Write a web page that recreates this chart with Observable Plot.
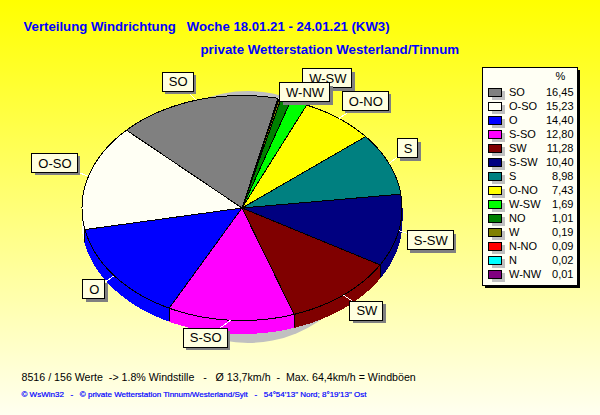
<!DOCTYPE html>
<html>
<head>
<meta charset="utf-8">
<script src="https://cdn.jsdelivr.net/npm/d3@7"></script>
<script src="https://cdn.jsdelivr.net/npm/@observablehq/plot@0.6"></script>
<style>
html,body{margin:0;padding:0;width:600px;height:415px;overflow:hidden;background:linear-gradient(#ffff00,#fffff0);}
svg{display:block;}
svg text{white-space:pre;}
svg path,svg rect,svg line{shape-rendering:crispEdges;}
</style>
</head>
<body>
<div id="chart"></div>
<script>
const titleText = "Verteilung Windrichtung   Woche 18.01.21 - 24.01.21 (KW3)";
const subtitleText = "private Wetterstation Westerland/Tinnum";
const statsText = "8516 / 156 Werte  -> 1.8% Windstille   -   Ø 13,7km/h  -  Max. 64,4km/h = Windböen";
const footerText = "© WsWin32   -   © private Wetterstation Tinnum/Westerland/Sylt   -   54°54'13\" Nord; 8°19'13\" Ost";

const categories = ["SO","O-SO","O","S-SO","SW","S-SW","S","O-NO","W-SW","NO","W","N-NO","N","W-NW"];
const shares = [16.45,15.23,14.40,12.80,11.28,10.40,8.98,7.43,1.69,1.01,0.19,0.09,0.02,0.01];
const palette = ["#808080","#fffff4","#0000ff","#ff00ff","#800000","#000080","#008080","#ffff00","#00ff00","#008000","#808000","#ff0000","#00ffff","#800080"];

// Layout only: geometry of the pie and where each callout sits relative to its slice edge.
const W = 600, H = 415;
const pie = {cx:241.5, cy:207.5, rx:160, ry:112.5, depth:13, startDeg:13};
const labelNames   = ["SO","O-SO","O","S-SO","SW","S-SW","S","O-NO","W-SW","W-NW"];
const labelOffsetX = [-18,-33.5,-20,-25,23.5,32,19,27,29,27];
const labelOffsetY = [-18,-13,14,18,16,10,-15,-17,-24,-5.5];
const legend = {x1:482,x2:577,y1:67,y2:285,row0:92,step:14};

const rad = d => d*Math.PI/180;
const px = a => pie.cx + pie.rx*Math.sin(rad(a));
const py = (a,d=0) => pie.cy - pie.ry*Math.cos(rad(a)) + d;

// Slices run counter-clockwise from the start angle, in legend order.
const total = d3.sum(shares);
let running = pie.startDeg;
const slices = categories.map((name,i) => {
  const a0 = running, a1 = running - shares[i]/total*360;
  running = a1;
  return {name,i,a0,a1,mid:(a0+a1)/2,color:palette[i]};
});
const arcAngles = (a0,a1) => {
  const n = Math.max(1,Math.ceil(Math.abs(a1-a0)));
  return d3.range(n+1).map(k => a0+(a1-a0)*k/n);
};

const topPts = [], sidePts = [];
for (const s of slices) {
  topPts.push({k:s.name,x:pie.cx,y:pie.cy,c:s.color});
  for (const a of arcAngles(s.a0,s.a1)) topPts.push({k:s.name,x:px(a),y:py(a),c:s.color});
  // Side wall: the part of the rim facing the viewer (between -90 and -270 degrees).
  const lo = Math.max(s.a1,-270), hi = Math.min(s.a0,-90);
  if (hi > lo) {
    const arc = arcAngles(hi,lo);
    for (const a of arc) sidePts.push({k:s.name,x:px(a),y:py(a),c:s.color});
    for (const a of arc.slice().reverse()) sidePts.push({k:s.name,x:px(a),y:py(a,pie.depth),c:s.color});
  }
}
const dividers = slices.filter(s => s.a1 < -90 && s.a1 > -270).map(s => ({x:px(s.a1),y1:py(s.a1),y2:py(s.a1,pie.depth)}));

const ctx = document.createElement("canvas").getContext("2d");
ctx.font = "13px 'Liberation Sans'";
const callouts = labelNames.map((name,i) => {
  const s = slices.find(d => d.name===name);
  const ax = px(s.mid), ay = py(s.mid);
  const cx = ax+labelOffsetX[i], cy = ay+labelOffsetY[i];
  const hw = (ctx.measureText(name).width+12)/2;
  return {name,ax,ay,cx,cy,x1:cx-hw,x2:cx+hw,y1:cy-9.5,y2:cy+9.5};
});

const legendRows = categories.map((name,i) => ({
  name, color:palette[i], y:legend.row0+i*legend.step,
  value:shares[i].toFixed(2).replace(".",",")
}));

const sans = "'Liberation Sans',Arial,sans-serif";
const one = [0];
const marks = [
  // pie shadow, walls and top face
  Plot.dot(one,{x:()=>pie.cx+6,y:()=>pie.cy+9,r:126,fill:"#c0c0c0",stroke:null}),
  Plot.line(sidePts,{x:"x",y:"y",z:"k",fill:"c",stroke:"c",strokeWidth:1}),
  Plot.line(topPts,{x:"x",y:"y",z:"k",fill:"c",stroke:"black",strokeWidth:1}),
  Plot.ruleX(dividers,{x:"x",y1:"y1",y2:"y2",stroke:"black",strokeWidth:1}),
  // callouts
  Plot.link(callouts,{x1:"ax",y1:"ay",x2:"cx",y2:"cy",stroke:"white",strokeWidth:1})
];
for (const c of callouts) {
  marks.push(
    Plot.rect([c],{x1:d=>d.x1+3,x2:d=>d.x2+3,y1:d=>d.y1+3,y2:d=>d.y2+3,fill:"#808080"}),
    Plot.rect([c],{x1:"x1",x2:"x2",y1:"y1",y2:"y2",fill:"#ffffe0",stroke:"black",strokeWidth:1}),
    Plot.text([c],{x:"cx",y:"cy",text:"name",fontSize:13,fontFamily:sans,fill:"black",textAnchor:"middle",lineAnchor:"middle"})
  );
}
marks.push(
  // legend
  Plot.rect(one,{x1:()=>legend.x1+3,x2:()=>legend.x2+3,y1:()=>legend.y1+3,y2:()=>legend.y2+3,fill:"black"}),
  Plot.rect(one,{x1:()=>legend.x1,x2:()=>legend.x2,y1:()=>legend.y1,y2:()=>legend.y2,fill:"#fffff4",stroke:"black",strokeWidth:1}),
  Plot.text(one,{x:()=>560,y:()=>76,text:()=>"%",fontSize:11,fontFamily:sans,fill:"black",textAnchor:"middle",lineAnchor:"middle"}),
  Plot.rect(legendRows,{x1:()=>492,x2:()=>505,y1:d=>d.y-1,y2:d=>d.y+8,fill:"#c0c0c0"}),
  Plot.rect(legendRows,{x1:()=>488,x2:()=>501,y1:d=>d.y-4,y2:d=>d.y+4,fill:"color",stroke:"black",strokeWidth:1}),
  Plot.text(legendRows,{x:()=>508.5,y:"y",text:"name",fontSize:11,fontFamily:sans,fill:"black",textAnchor:"start",lineAnchor:"middle"}),
  Plot.text(legendRows,{x:()=>573,y:"y",text:"value",fontSize:11,fontFamily:sans,fill:"black",textAnchor:"end",lineAnchor:"middle"}),
  // titles and notes
  Plot.text(one,{x:()=>23,y:()=>26,text:()=>titleText,fontSize:13.2,fontWeight:"bold",fontFamily:sans,fill:"#0000ff",textAnchor:"start",lineAnchor:"middle"}),
  Plot.text(one,{x:()=>200,y:()=>49,text:()=>subtitleText,fontSize:13.3,fontWeight:"bold",fontFamily:sans,fill:"#0000ff",textAnchor:"start",lineAnchor:"middle"}),
  Plot.text(one,{x:()=>21,y:()=>377,text:()=>statsText,fontSize:10.65,fontFamily:sans,fill:"black",textAnchor:"start",lineAnchor:"middle"}),
  Plot.text(one,{x:()=>21,y:()=>394,text:()=>footerText,fontSize:8,fontFamily:sans,fill:"#0000ff",stroke:"#0000ff",strokeWidth:0.2,textAnchor:"start",lineAnchor:"middle"})
);

const chart = Plot.plot({
  width:W,height:H,
  marginTop:0,marginRight:0,marginBottom:0,marginLeft:0,
  x:{type:"linear",domain:[0,W],range:[0,W],axis:null},
  y:{type:"linear",domain:[0,H],range:[0,H],axis:null},
  color:{type:"identity"},
  style:{background:"transparent",overflow:"visible"},
  marks
});
document.getElementById("chart").append(chart);
</script>
</body>
</html>
